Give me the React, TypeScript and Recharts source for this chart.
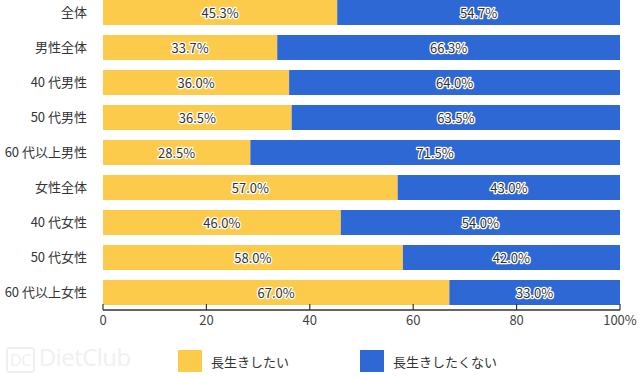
import React from "react";
import { Bar, BarChart, LabelList, XAxis, YAxis } from "recharts";

const categories = [
  "全体",
  "男性全体",
  "40 代男性",
  "50 代男性",
  "60 代以上男性",
  "女性全体",
  "40 代女性",
  "50 代女性",
  "60 代以上女性",
];
const wantLong = [45.3, 33.7, 36.0, 36.5, 28.5, 57.0, 46.0, 58.0, 67.0];
const notWantLong = [54.7, 66.3, 64.0, 63.5, 71.5, 43.0, 54.0, 42.0, 33.0];
const xTicks = [0, 20, 40, 60, 80, 100];
const seriesNames = ["長生きしたい", "長生きしたくない"];

const YELLOW = "#FDCB4B";
const BLUE = "#2E68D5";
const FONT = "'Noto Sans CJK JP', 'Noto Sans', sans-serif";

const data = categories.map((name, i) => ({
  name,
  yes: wantLong[i],
  no: notWantLong[i],
}));

// value label with a white halo, centred in its segment
function ValueLabel(props: any) {
  const { x, y, width, height, value } = props;
  return (
    <text
      x={x + width / 2}
      y={y + height / 2}
      textAnchor="middle"
      dominantBaseline="central"
      fontSize={13}
      fontFamily={FONT}
      fill="#333"
      stroke="#fff"
      strokeWidth={2.5}
      strokeLinejoin="round"
      paintOrder="stroke"
    >
      {`${Number(value).toFixed(1)}%`}
    </text>
  );
}

// ticks point up into the plot, label below the axis
function XTick(props: any) {
  const { x, y, payload } = props;
  const label = payload.value === 100 ? "100%" : String(payload.value);
  return (
    <g>
      <line x1={x} x2={x} y1={y} y2={y - 6} stroke="#333" strokeWidth={1.2} />
      <text
        x={x}
        y={y + 15}
        textAnchor="middle"
        fontSize={13}
        fontFamily={FONT}
        fill="#444"
      >
        {label}
      </text>
    </g>
  );
}

export default function App() {
  return (
    <div
      style={{
        position: "fixed",
        top: 0,
        left: 0,
        width: 640,
        height: 378,
        overflow: "hidden",
        background: "#fff",
        fontFamily: FONT,
      }}
    >
      <div style={{ position: "absolute", top: -5, left: 0 }}>
        <BarChart
          layout="vertical"
          width={640}
          height={345}
          data={data}
          margin={{ top: 0, right: 20, bottom: 0, left: 0 }}
        >
          <XAxis
            type="number"
            domain={[0, 100]}
            ticks={xTicks}
            height={30}
            axisLine={{ stroke: "#333", strokeWidth: 1.5 }}
            tickLine={false}
            tickSize={0}
            tickMargin={0}
            tick={<XTick />}
          />
          <YAxis
            type="category"
            dataKey="name"
            width={103}
            axisLine={false}
            tickLine={false}
            tickMargin={10}
            tick={{ fontSize: 13, fill: "#333", fontFamily: FONT }}
          />
          <Bar dataKey="yes" stackId="a" fill={YELLOW} barSize={25} isAnimationActive={false}>
            <LabelList dataKey="yes" content={<ValueLabel />} />
          </Bar>
          <Bar dataKey="no" stackId="a" fill={BLUE} barSize={25} isAnimationActive={false}>
            <LabelList dataKey="no" content={<ValueLabel />} />
          </Bar>
        </BarChart>
      </div>

      <div
        style={{
          position: "absolute",
          left: 6,
          top: 340,
          fontSize: 24,
          color: "#f0f0f0",
          fontFamily: "'Open Sans', sans-serif",
          letterSpacing: -0.5,
        }}
      >
        <span
          style={{
            display: "inline-block",
            border: "2px solid #f0f0f0",
            borderRadius: 4,
            fontSize: 16,
            padding: "0 2px",
            marginRight: 4,
            verticalAlign: "middle",
          }}
        >
          DC
        </span>
        DietClub
      </div>

      {seriesNames.map((name, i) => (
        <div
          key={name}
          style={{
            position: "absolute",
            left: i === 0 ? 178 : 360,
            top: 350,
            display: "flex",
            alignItems: "center",
            fontSize: 13,
            color: "#333",
          }}
        >
          <span
            style={{
              display: "inline-block",
              width: 24,
              height: 22,
              background: i === 0 ? YELLOW : BLUE,
              marginRight: 9,
            }}
          />
          {name}
        </div>
      ))}
    </div>
  );
}
